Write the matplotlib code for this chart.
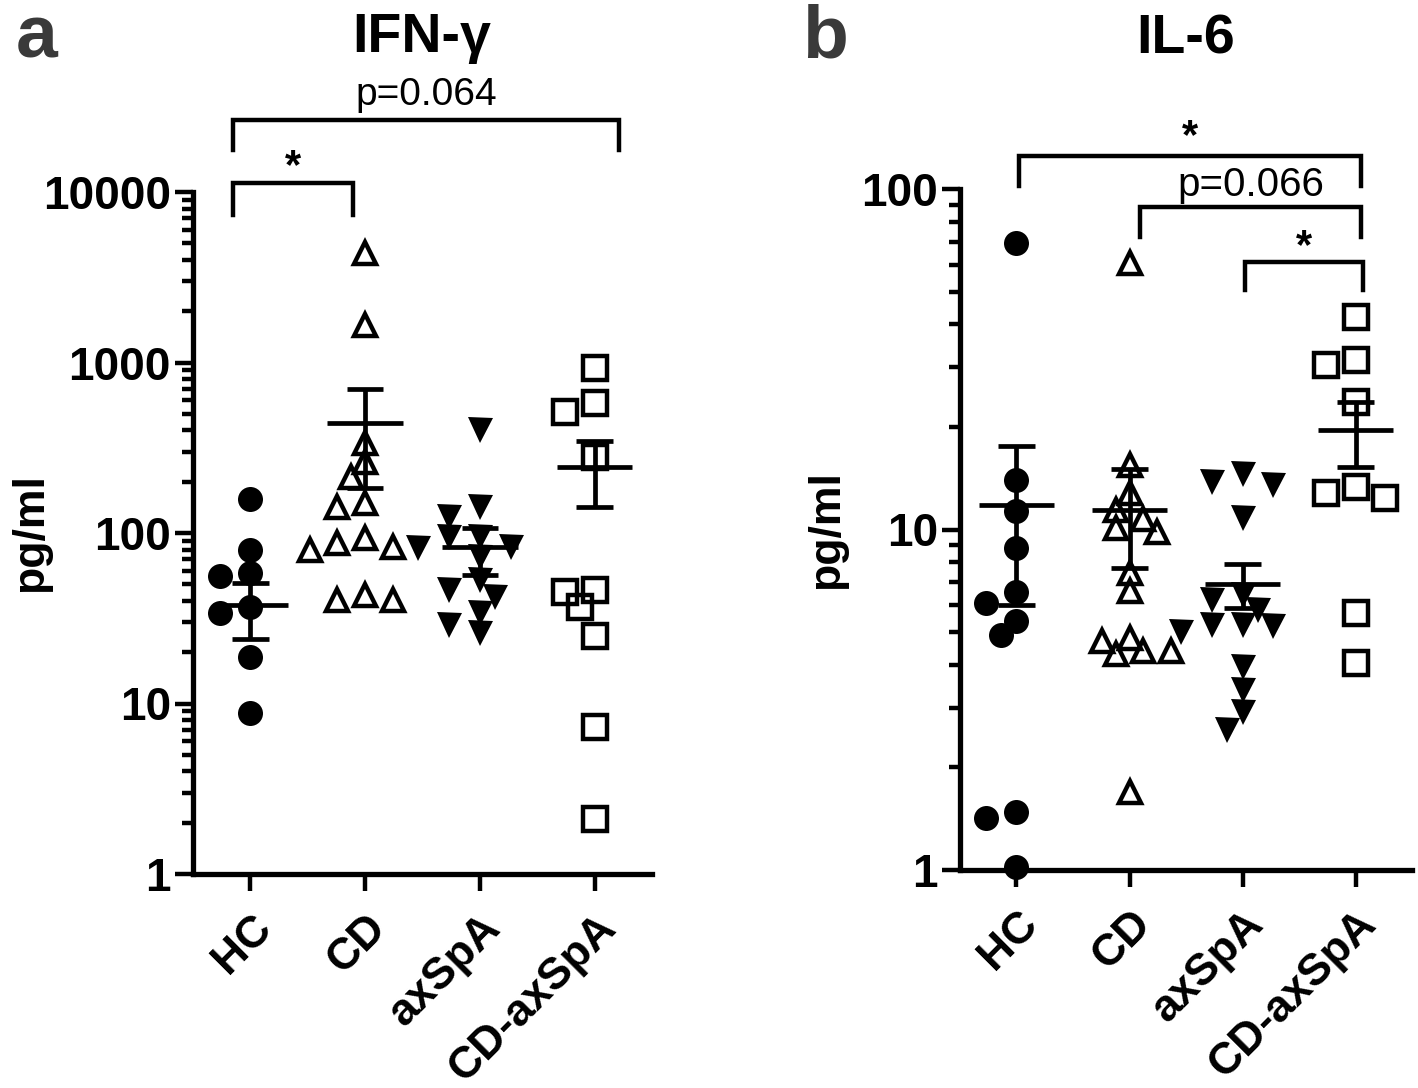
import numpy as np
import matplotlib
matplotlib.use('Agg')
import matplotlib.pyplot as plt
from matplotlib.ticker import LogLocator, NullFormatter
from matplotlib.transforms import blended_transform_factory

plt.rcParams['font.family'] = ['Liberation Sans', 'DejaVu Sans']
plt.rcParams['font.weight'] = 'bold'

groups = ['HC', 'CD', 'axSpA', 'CD-axSpA']

# IFN-gamma (pg/ml)
ifn_hc = [158, 79.6, 56, 58, 34, 37, 18.7, 8.8]
ifn_cd = [4380, 1660, 337, 261, 213, 150, 142, 94, 87.6, 79.5, 83, 40.5, 43, 40.5]
ifn_ax = [402, 142, 124, 95, 95, 83, 82, 72, 53, 46, 42, 34, 29, 26]
ifn_cdax = [929, 578, 512, 279, 46, 45, 37, 25, 7.3, 2.1]
ifn_mean = [37.8, 442, 83, 244]
ifn_upper = [51, 700, 107, 346]
ifn_lower = [23.9, 184, 57, 142]

# IL-6 (pg/ml)
il6_hc = [69.4, 14.0, 11.3, 8.8, 6.55, 6.1, 5.4, 4.9, 1.48, 1.42, 1.02]
il6_cd = [60.6, 15.5, 12.8, 11.4, 10.7, 10.1, 9.8, 7.45, 6.6, 4.8, 4.7, 4.4, 4.4, 4.3, 1.7]
il6_ax = [14.6, 13.8, 13.5, 10.8, 6.4, 6.2, 5.8, 5.25, 5.25, 5.2, 5.0, 3.95, 3.38, 2.91, 2.58]
il6_cdax = [42, 31.5, 30.4, 23.7, 13.3, 12.8, 12.4, 5.7, 4.06]
il6_mean = [11.8, 11.4, 6.9, 19.6]
il6_upper = [17.6, 15.1, 7.9, 23.7]
il6_lower = [6.0, 7.7, 5.9, 15.3]

# marker style per group: (marker, filled, size)
mstyle = [('o', True, 18), ('^', False, 16), ('v', True, 18), ('s', False, 17)]


def swarm(ax, xc, vals, size_px):
    # simple beeswarm in pixel space, points may overlap a little
    vals = np.asarray(vals, dtype=float)
    ys = ax.transData.transform(np.column_stack([np.full(len(vals), xc), vals]))[:, 1]
    x0 = ax.transData.transform((xc, 1))[0]
    x1 = ax.transData.transform((xc + 1, 1))[0]
    unit = x1 - x0
    step = 0.55 * size_px
    mind = 0.7 * size_px
    placed = []
    offs = np.zeros(len(vals))
    for i in np.argsort(-vals):
        k = 0
        found = None
        while found is None:
            cands = [0.0] if k == 0 else [-k * step, k * step]
            for c in cands:
                if all((c - qx) ** 2 + (ys[i] - qy) ** 2 >= mind ** 2 for qx, qy in placed):
                    found = c
                    break
            k += 1
        placed.append((found, ys[i]))
        offs[i] = found / unit
    return xc + offs


def draw_panel(ax, data, mean, upper, lower, ylim, yticks):
    ax.set_yscale('log')
    ax.set_xlim(-0.5, 3.5)
    ax.set_ylim(*ylim)
    for i, vals in enumerate(data):
        m, filled, ms = mstyle[i]
        xs = swarm(ax, i, vals, ms * 1.39 + 3)
        if filled:
            ax.plot(xs, vals, m, ms=ms, color='black', mew=0, ls='none', clip_on=False, zorder=3)
        else:
            ax.plot(xs, vals, m, ms=ms, mfc='none', mec='black', mew=3.2, ls='none', clip_on=False, zorder=3)
        # mean +/- SEM
        ax.plot([i, i], [lower[i], upper[i]], color='black', lw=3.4, zorder=4, solid_capstyle='butt')
        ax.plot([i - 0.16, i + 0.16], [upper[i], upper[i]], color='black', lw=3.4, zorder=4, solid_capstyle='butt')
        ax.plot([i - 0.16, i + 0.16], [lower[i], lower[i]], color='black', lw=3.4, zorder=4, solid_capstyle='butt')
        ax.plot([i - 0.33, i + 0.33], [mean[i], mean[i]], color='black', lw=3.4, zorder=4, solid_capstyle='butt')

    for s in ['top', 'right']:
        ax.spines[s].set_visible(False)
    for s in ['left', 'bottom']:
        ax.spines[s].set_linewidth(3.8)
    ax.set_yticks(yticks)
    ax.set_yticklabels([str(t) for t in yticks], fontsize=33, fontweight='bold')
    ax.yaxis.set_minor_locator(LogLocator(base=10, subs=np.arange(2, 10)))
    ax.yaxis.set_minor_formatter(NullFormatter())
    ax.tick_params(axis='y', which='major', length=13, width=3.2, pad=3)
    ax.tick_params(axis='y', which='minor', length=8, width=3.2)
    ax.set_xticks(range(4))
    ax.set_xticklabels(groups, rotation=45, ha='right', va='top', rotation_mode='anchor',
                       fontsize=32, fontweight='bold')
    ax.tick_params(axis='x', length=12, width=3.2, pad=12)
    ax.set_ylabel('pg/ml', fontsize=32, fontweight='bold')


def bracket(ax, x1, x2, y, leg, text, ty, fs, weight):
    tr = blended_transform_factory(ax.transData, ax.transAxes)
    ax.plot([x1, x1, x2, x2], [y - leg, y, y, y - leg], color='black', lw=3.2,
            transform=tr, clip_on=False, solid_joinstyle='miter')
    ax.text((x1 + x2) / 2, ty, text, transform=tr, ha='center', va='center',
            fontsize=fs, fontweight=weight)


fig = plt.figure(figsize=(14.18, 10.88), dpi=100)
ax1 = fig.add_axes([193 / 1418, 1 - 874 / 1088, 459 / 1418, 682 / 1088])
ax2 = fig.add_axes([960 / 1418, 1 - 870 / 1088, 452 / 1418, 681 / 1088])

draw_panel(ax1, [ifn_hc, ifn_cd, ifn_ax, ifn_cdax], ifn_mean, ifn_upper, ifn_lower,
           (1, 10000), [1, 10, 100, 1000, 10000])
draw_panel(ax2, [il6_hc, il6_cd, il6_ax, il6_cdax], il6_mean, il6_upper, il6_lower,
           (1, 100), [1, 10, 100])
ax1.yaxis.set_label_coords(-0.31, 0.5)
ax2.yaxis.set_label_coords(-0.25, 0.5)

# significance brackets
bracket(ax1, -0.15, 3.21, 1.106, 0.045, 'p=0.064', 1.142, 28, 'normal')
bracket(ax1, -0.15, 0.89, 1.013, 0.047, '*', 1.036, 30, 'bold')
bracket(ax2, 0.02, 3.05, 1.048, 0.044, '*', 1.076, 30, 'bold')
bracket(ax2, 1.09, 3.05, 0.974, 0.044, 'p=0.066', 1.006, 29, 'normal')
bracket(ax2, 2.02, 3.07, 0.893, 0.042, '*', 0.914, 30, 'bold')

fig.text(422 / 1418, 1 - 38 / 1088, 'IFN-γ', ha='center', va='center', fontsize=40, fontweight='bold')
fig.text(1186 / 1418, 1 - 40 / 1088, 'IL-6', ha='center', va='center', fontsize=40, fontweight='bold')
fig.text(37 / 1418, 1 - 4 / 1088, 'a', ha='center', va='top', fontsize=54, fontweight='bold', color='#3a3a3a')
fig.text(825 / 1418, 1 - 4 / 1088, 'b', ha='center', va='top', fontsize=54, fontweight='bold', color='#3a3a3a')

fig.savefig('out.png', dpi=100)
